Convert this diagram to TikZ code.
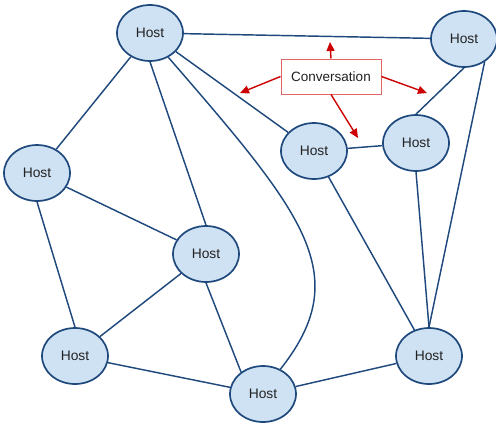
\documentclass[tikz,border=0pt]{standalone}
\usepackage{fontspec}
\setmainfont{Liberation Sans}
\usetikzlibrary{shapes.geometric,arrows.meta}
\definecolor{edgeblue}{RGB}{31,73,125}
\definecolor{hostfill}{RGB}{207,226,243}
\definecolor{arrred}{RGB}{204,0,0}
\definecolor{boxred}{RGB}{224,102,102}
\definecolor{txt}{RGB}{34,34,34}
\tikzset{
  host/.style={ellipse, draw=edgeblue, line width=1.7pt, fill=hostfill,
    minimum width=66pt, minimum height=56pt, inner sep=0pt,
    text=txt, font=\fontsize{13.8}{16}\selectfont},
  link/.style={draw=edgeblue, line width=1.45pt},
  convbox/.style={draw=boxred, line width=1pt, fill=white, minimum width=100pt,
    minimum height=35pt, inner sep=0pt, text=txt, font=\fontsize{13.5}{16}\selectfont},
  redarrow/.style={draw=arrred, line width=1.4pt, -{Triangle[length=9pt,width=8pt]}}
}
\begin{document}
\begin{tikzpicture}[x=1pt,y=-1pt]
\useasboundingbox (0,0) rectangle (496,424);
% nodes
\node[host] (h1) at (150,33) {Host};
\node[host] (h2) at (464,39) {Host};
\node[host] (h3) at (314,151) {Host};
\node[host] (h4) at (416,143) {Host};
\node[host] (h5) at (37,173) {Host};
\node[host] (h6) at (206,254) {Host};
\node[host] (h7) at (75,356) {Host};
\node[host] (h8) at (263,394) {Host};
\node[host] (h9) at (429,356) {Host};
\node[convbox] (conv) at (331,76.5) {Conversation};
% free arrow ends
\coordinate (aup) at (330,42);
\coordinate (aleft) at (240,93);
\coordinate (aright) at (427,93);
\coordinate (adown) at (358,138);
% edges
\draw[link] (h1) -- (h2);
\draw[link] (h1) -- (h5);
\draw[link] (h1.south) -- (h6.north);
\draw[link] (h1.-53) .. controls (305,215) and (355,275) .. (h8.55);
\draw[link] (h1) -- (h3);
\draw[link] (h2.south) -- (h4.north);
\draw[link] (h2.-48) -- (h9.north);
\draw[link] (h3) -- (h4);
\draw[link] (h3) -- (h9);
\draw[link] (h4.south) -- (h9.north);
\draw[link] (h5) -- (h6);
\draw[link] (h5.south) -- (h7.north);
\draw[link] (h6) -- (h7);
\draw[link] (h6.south) -- (h8.135);
\draw[link] (h7) -- (h8);
\draw[link] (h8) -- (h9);
% arrows
\draw[redarrow] (conv.north) -- (aup);
\draw[redarrow] (conv.west) -- (aleft);
\draw[redarrow] (conv.east) -- (aright);
\draw[redarrow] (conv.south) -- (adown);
\end{tikzpicture}
\end{document}
